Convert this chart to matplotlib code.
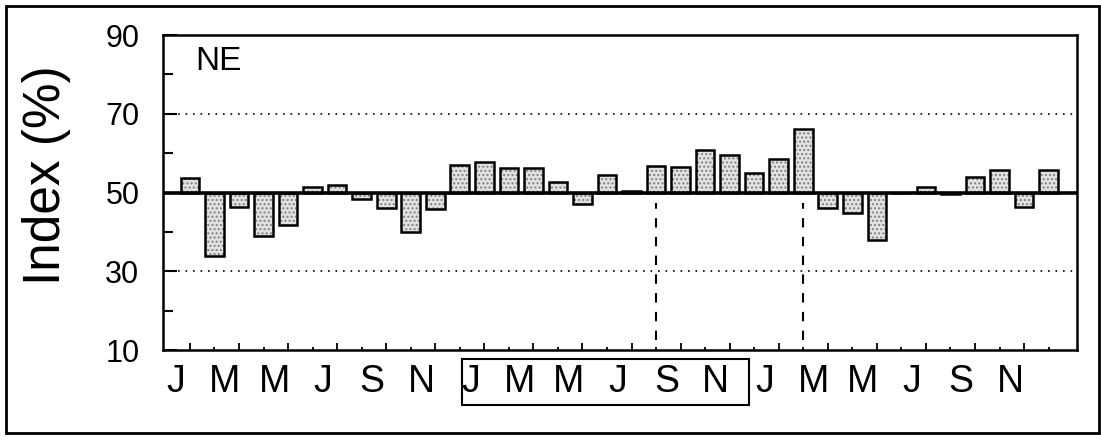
import matplotlib
matplotlib.use("Agg")
import numpy as np
import matplotlib.pyplot as plt
from matplotlib.patches import Rectangle
from matplotlib.transforms import ScaledTranslation, blended_transform_factory

plt.rcParams['font.family'] = ['Liberation Sans', 'DejaVu Sans']

# monthly index values, Jan of year 1 .. Dec of year 3
year1 = [53.8, 33.8, 46.2, 38.9, 41.8, 51.4, 51.8, 48.3, 46.0, 40.0, 45.8, 57.1]
year2 = [57.7, 56.1, 56.3, 52.7, 47.1, 54.4, 50.4, 56.7, 56.6, 60.8, 59.5, 55.0]
year3 = [58.6, 66.2, 46.0, 44.7, 37.9, 50.0, 51.4, 49.6, 53.9, 55.6, 46.3, 55.6]
month_labels = ['J', 'M', 'M', 'J', 'S', 'N']
event_months = [19, 25]      # dashed markers (Aug yr2, Feb yr3)
boxed_year = 1               # second year is boxed
base = 50
region = 'NE'

values = np.array(year1 + year2 + year3)
months = np.arange(len(values))

fig = plt.figure(figsize=(11.01, 4.41), dpi=100)
ax = fig.add_axes([0.148, 0.2063, 0.83, 0.7143])

# stipple fill, then outline
ax.bar(months, values - base, bottom=base, width=0.76, color='#e2e2e2',
       edgecolor='#808080', hatch='....', linewidth=0, zorder=2)
ax.bar(months, values - base, bottom=base, width=0.76, fill=False,
       edgecolor='black', linewidth=1.8, zorder=3)

ax.axhline(base, color='black', lw=2.6, zorder=4)
for g in (30, 70):
    ax.axhline(g, color='black', lw=1.2, ls=(0, (1, 3.5)), zorder=1)

for m in event_months:
    ax.vlines(m, 12.5, 47.3, colors='black', lw=1.5, linestyles=(0, (4.5, 4.5)), zorder=1)

ax.set_xlim(-1.1, 36.15)
ax.set_ylim(10, 90)

ax.set_yticks([10, 30, 50, 70, 90])
ax.set_yticks([20, 40, 60, 80], minor=True)
ax.tick_params(axis='y', which='major', direction='in', length=10, width=1.5,
               pad=17, labelsize=22)
ax.tick_params(axis='y', which='minor', direction='in', length=7, width=1.5)

ax.set_xticks(months[::2])
ax.set_xticks(months[1::2], minor=True)
ax.set_xticklabels(month_labels * 3)
ax.tick_params(axis='x', which='major', direction='in', length=5, width=1.3,
               pad=10, labelsize=27)
ax.tick_params(axis='x', which='minor', direction='in', length=2.5, width=1.3)
shift = ScaledTranslation(-0.14, 0, fig.dpi_scale_trans)
for lab in ax.get_xticklabels():
    lab.set_transform(lab.get_transform() + shift)

for s in ax.spines.values():
    s.set_linewidth(1.8)

ax.text(0.035, 0.965, region, transform=ax.transAxes, ha='left', va='top', fontsize=24)

fig.text(0.042, 0.603, 'Index (%)', rotation=90, ha='center', va='center', fontsize=37)

# box around the labels of the highlighted year
tr = blended_transform_factory(ax.transData, ax.transAxes)
x0 = boxed_year * 12 - 0.9
x1 = boxed_year * 12 + 10.8
ax.add_patch(Rectangle((x0, -0.175), x1 - x0, 0.146, transform=tr, fill=False,
                       edgecolor='black', lw=1.5, clip_on=False))

# outer frame
fig.patches.append(Rectangle((0.005, 0.018), 0.993, 0.968, transform=fig.transFigure,
                             fill=False, edgecolor='black', lw=2))

fig.savefig('out.png', dpi=100)
